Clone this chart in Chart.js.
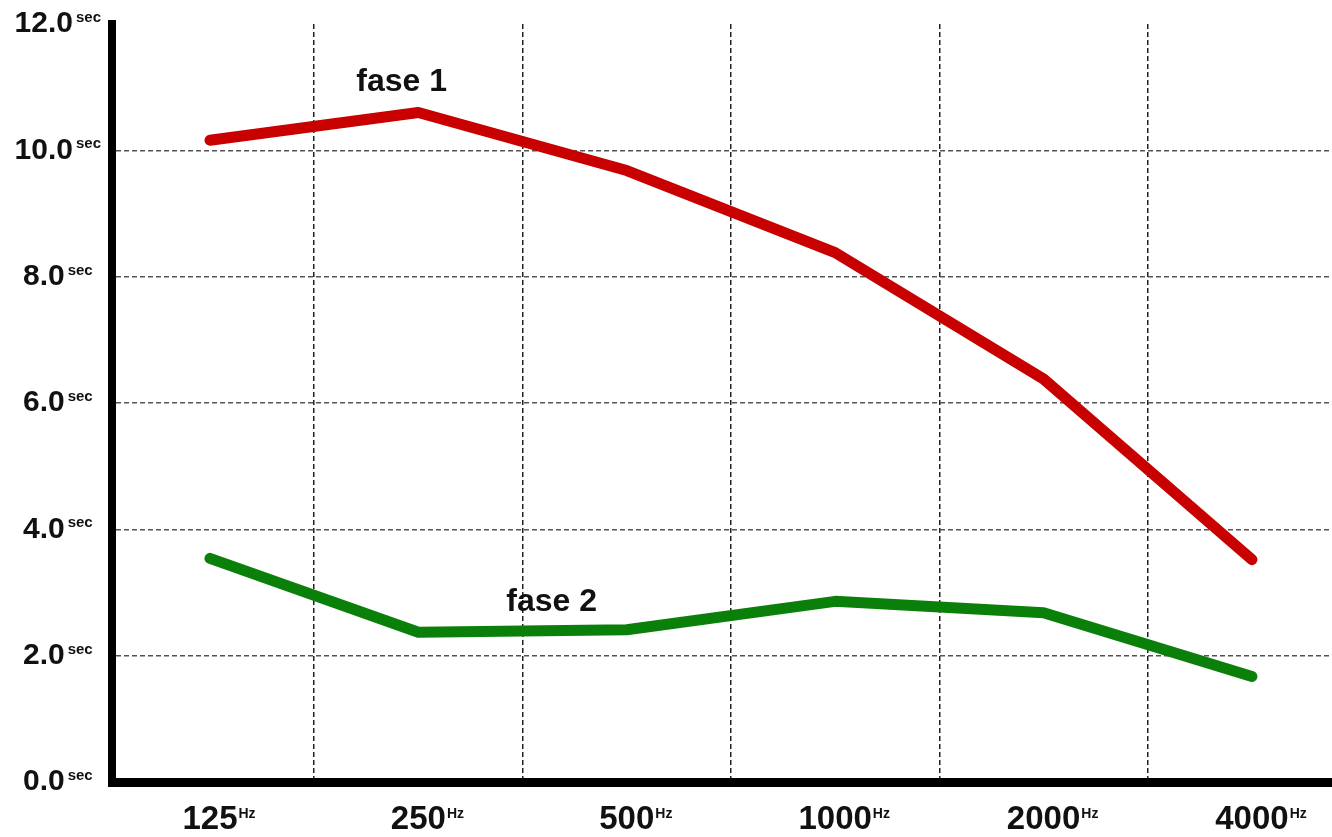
<!DOCTYPE html>
<html>
<head>
<meta charset="utf-8">
<title>fase 1 / fase 2</title>
<script src="https://cdn.jsdelivr.net/npm/chart.js@4/dist/chart.umd.min.js"></script>
<style>
    html, body { margin: 0; padding: 0; background: #fff; }
    canvas { display: block; }
</style>
</head>
<body>
<canvas id="reverb-chart" width="1332" height="837"></canvas>
<script>
    const frequencies = ['125', '250', '500', '1000', '2000', '4000'];
    const fase1 = [10.16, 10.60, 9.68, 8.38, 6.38, 3.52];
    const fase2 = [3.54, 2.37, 2.41, 2.86, 2.68, 1.67];
    const yTicks = [0, 2, 4, 6, 8, 10, 12];
    const seriesNames = ['fase 1', 'fase 2'];
    // where the series names sit, in data units (x = frequency slot, y = seconds)
    const nameX = [1.92, 2.64];
    const nameY = [10.94, 2.70];

    const FONT = "'Liberation Sans', Arial, sans-serif";

    document.addEventListener('DOMContentLoaded', () => {
        const ctx = document.getElementById('reverb-chart').getContext('2d');

        const toPoints = values => values.map((v, i) => ({ x: i + 1, y: v }));

        // small "sec" / "Hz" after the tick numbers, and the series names
        const extrasPlugin = {
            id: 'extras',
            afterDraw(chart) {
                const c = chart.ctx;
                const xs = chart.scales.x;
                const ys = chart.scales.y;
                c.save();
                c.fillStyle = '#111';

                c.font = 'bold 30px ' + FONT;
                const yCenter = ys.right - ys.options.ticks.padding - c.measureText('12.0').width / 2;
                yTicks.forEach(v => {
                    c.font = 'bold 30px ' + FONT;
                    const w = c.measureText(v.toFixed(1)).width;
                    c.font = 'bold 15px ' + FONT;
                    c.textAlign = 'left';
                    c.textBaseline = 'alphabetic';
                    c.fillText('sec', yCenter + w / 2 + 3, ys.getPixelForValue(v) - 2);
                });

                const mid = xs.top + xs.options.ticks.padding + 33 * 1.2 / 2;
                frequencies.forEach((f, i) => {
                    c.font = 'bold 33px ' + FONT;
                    const w = c.measureText(f).width;
                    c.font = 'bold 14px ' + FONT;
                    c.textAlign = 'left';
                    c.textBaseline = 'alphabetic';
                    c.fillText('Hz', xs.getPixelForValue(i + 1) + w / 2 + 1, mid - 2);
                });

                c.font = 'bold 32px ' + FONT;
                c.textAlign = 'center';
                c.textBaseline = 'alphabetic';
                seriesNames.forEach((name, i) => {
                    c.fillText(name, xs.getPixelForValue(nameX[i]), ys.getPixelForValue(nameY[i]));
                });
                c.restore();
            }
        };

        new Chart(ctx, {
            type: 'line',
            data: {
                datasets: [{
                    label: seriesNames[0],
                    data: toPoints(fase1),
                    borderColor: '#c80000',
                    borderWidth: 11,
                    borderCapStyle: 'round',
                    borderJoinStyle: 'round',
                    pointRadius: 0,
                    tension: 0
                }, {
                    label: seriesNames[1],
                    data: toPoints(fase2),
                    borderColor: '#0a800a',
                    borderWidth: 11,
                    borderCapStyle: 'round',
                    borderJoinStyle: 'round',
                    pointRadius: 0,
                    tension: 0
                }]
            },
            options: {
                responsive: false,
                animation: false,
                layout: { padding: { top: 24, right: 0, left: 0, bottom: 0 } },
                plugins: {
                    legend: { display: false },
                    tooltip: { enabled: false }
                },
                scales: {
                    x: {
                        type: 'linear',
                        min: 0.53,
                        max: 6.384,
                        afterBuildTicks: scale => {
                            scale.ticks = [1, 1.5, 2, 2.5, 3, 3.5, 4, 4.5, 5, 5.5, 6].map(v => ({ value: v }));
                        },
                        afterFit: scale => {
                            scale.height = 55;
                            scale.paddingLeft = 0;
                            scale.paddingRight = 0;
                        },
                        ticks: {
                            autoSkip: false,
                            maxRotation: 0,
                            minRotation: 0,
                            padding: 18,
                            color: '#111',
                            font: { family: FONT, size: 33, weight: 'bold' },
                            callback: value => Number.isInteger(value) ? frequencies[value - 1] : ''
                        },
                        grid: {
                            drawTicks: false,
                            lineWidth: 1.5,
                            color: c => (c.tick && Number.isInteger(c.tick.value)) ? 'rgba(0,0,0,0)' : '#222'
                        },
                        border: { display: true, width: 9, color: '#000', dash: [5, 3] }
                    },
                    y: {
                        min: 0,
                        max: 12,
                        afterBuildTicks: scale => {
                            scale.ticks = yTicks.map(v => ({ value: v }));
                        },
                        afterFit: scale => {
                            scale.width = 112;
                            scale.paddingTop = 0;
                            scale.paddingBottom = 0;
                        },
                        ticks: {
                            padding: 39,
                            crossAlign: 'center',
                            color: '#111',
                            font: { family: FONT, size: 30, weight: 'bold' },
                            callback: value => value.toFixed(1)
                        },
                        grid: {
                            drawTicks: false,
                            lineWidth: 1.5,
                            color: c => (c.tick && (c.tick.value === 0 || c.tick.value === 12)) ? 'rgba(0,0,0,0)' : '#555'
                        },
                        border: { display: true, width: 8, color: '#000', dash: [5, 3] }
                    }
                }
            },
            plugins: [extrasPlugin]
        });
    });
</script>
</body>
</html>
